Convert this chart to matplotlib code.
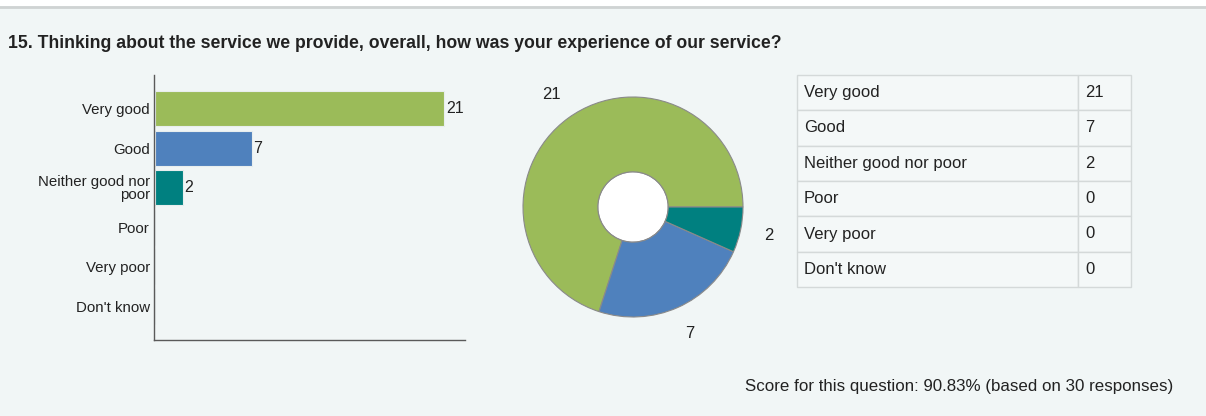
import matplotlib
matplotlib.use("Agg")
import matplotlib.pyplot as plt
from matplotlib.patches import Rectangle
from matplotlib.lines import Line2D

plt.rcParams['font.family'] = ['Liberation Sans', 'DejaVu Sans']

# survey answers and counts
categories = ["Very good", "Good", "Neither good nor poor", "Poor", "Very poor", "Don't know"]
bar_labels = ["Very good", "Good", "Neither good nor\npoor", "Poor", "Very poor", "Don't know"]
counts = [21, 7, 2, 0, 0, 0]
colors = ["#9bbb59", "#4f81bd", "#008080", "#c0504d", "#8064a2", "#f79646"]

question = "15. Thinking about the service we provide, overall, how was your experience of our service?"
score_text = "Score for this question: 90.83% (based on 30 responses)"

W, H = 1206, 416
bg = "#f1f6f6"
text_col = "#222222"

fig = plt.figure(figsize=(W / 100, H / 100), dpi=100)
fig.patch.set_facecolor(bg)

# white strip and separator line at the top
fig.patches.append(Rectangle((0, 1 - 6 / H), 1, 6 / H, transform=fig.transFigure,
                             facecolor="white", edgecolor="none", zorder=0))
fig.lines.append(Line2D([0, 1], [1 - 6.5 / H, 1 - 6.5 / H], transform=fig.transFigure,
                        color="#cfd3d3", linewidth=2))

fig.text(8 / W, 1 - 43 / H, question, fontsize=12.7, fontweight="bold",
         color=text_col, va="center", ha="left")

# horizontal bar chart
ax = fig.add_axes([154 / W, (H - 340) / H, 311 / W, 265 / H])
ax.set_facecolor(bg)
ypos = list(range(len(categories)))
bars = ax.barh(ypos, counts, left=0.1, height=0.89, color=colors[:len(counts)],
               edgecolor="#e8eeee", linewidth=0.8)
for b, v in zip(bars, counts):
    if v > 0:
        ax.text(v + 0.22, b.get_y() + b.get_height() / 2, str(v), va="center",
                ha="left", fontsize=11.5, color=text_col)
ax.set_xlim(0, 22.6)
ax.set_ylim(5.86, -0.86)
ax.set_yticks(ypos)
ax.set_yticklabels(bar_labels, fontsize=10.8, color=text_col, linespacing=0.9)
ax.set_xticks([])
ax.tick_params(axis="y", length=0, pad=3)
for s in ["top", "right"]:
    ax.spines[s].set_visible(False)
for s in ["left", "bottom"]:
    ax.spines[s].set_color("#5a5a5a")
    ax.spines[s].set_linewidth(1)

# doughnut chart
pax = fig.add_axes([479 / W, 55 / H, 308 / W, 308 / H])
pax.set_facecolor(bg)
nz = [(c, v, col) for c, v, col in zip(categories, counts, colors) if v > 0]
wedges, texts = pax.pie([v for _, v, _ in nz], labels=[str(v) for _, v, _ in nz],
                        colors=[col for _, _, col in nz], startangle=0,
                        counterclock=True, radius=1, labeldistance=1.26,
                        wedgeprops=dict(width=0.68, edgecolor="#8a8a8a", linewidth=0.8),
                        textprops=dict(fontsize=12, color=text_col, ha="center", va="center"))
pax.add_patch(plt.Circle((0, 0), 0.32, facecolor="white", edgecolor="#8a8a8a",
                         linewidth=0.8, zorder=0))
pax.set_xlim(-1.4, 1.4)
pax.set_ylim(-1.4, 1.4)
pax.set_aspect("equal")
pax.axis("off")

# counts table
tax = fig.add_axes([797 / W, (H - 287) / H, 334 / W, 212 / H])
tax.axis("off")
tbl = tax.table(cellText=[[c, str(v)] for c, v in zip(categories, counts)],
                colWidths=[281 / 334, 53 / 334], cellLoc="left",
                bbox=[0, 0, 1, 1])
tbl.auto_set_font_size(False)
for (r, c), cell in tbl.get_celld().items():
    cell.set_edgecolor("#d4d9d9")
    cell.set_linewidth(1)
    cell.set_facecolor("#f4f8f8")
    cell.get_text().set_fontsize(12)
    cell.get_text().set_color(text_col)
    cell.PAD = 7 / 281 if c == 0 else 7 / 53

fig.text(1173 / W, 1 - 386 / H, score_text, fontsize=12.2, color=text_col,
         ha="right", va="center")

fig.savefig("out.png", dpi=100, facecolor=fig.get_facecolor())
